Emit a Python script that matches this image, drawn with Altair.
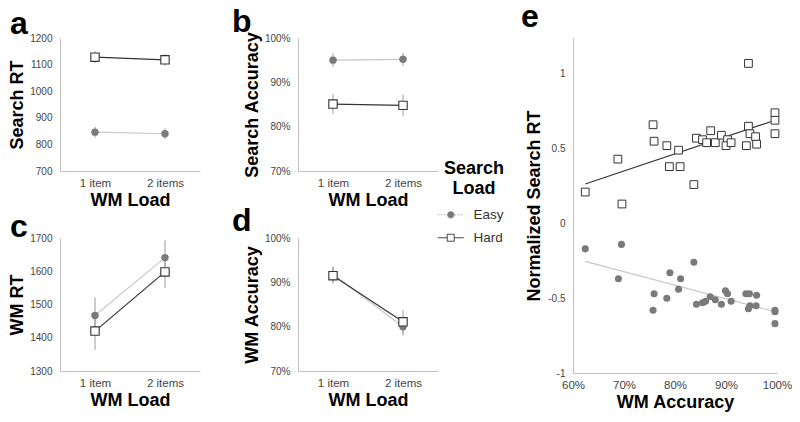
import altair as alt
import pandas as pd

FONT = "Liberation Sans"

load = ["1 item", "2 items"]
series = ["Easy", "Hard"]

# Panel a: Search RT
a_easy = [846, 840]
a_easy_err = [20, 20]
a_hard = [1128, 1118]
a_hard_err = [22, 22]
# Panel b: Search Accuracy (%)
b_easy = [95.0, 95.2]
b_easy_err = [1.5, 1.5]
b_hard = [85.1, 84.8]
b_hard_err = [2.2, 2.4]
# Panel c: WM RT
c_easy = [1467, 1641]
c_easy_err = [54, 52]
c_hard = [1420, 1598]
c_hard_err = [56, 48]
# Panel d: WM Accuracy (%)
d_easy = [91.8, 80.0]
d_easy_err = [1.8, 2.0]
d_hard = [91.5, 81.1]
d_hard_err = [1.8, 2.6]

# Panel e: scatter (WM accuracy %, normalized search RT)
e_hard_acc = [62.4, 68.8, 69.6, 75.7, 75.9, 78.4, 78.9, 81.0, 80.7, 83.7, 84.2, 85.4, 86.2, 87.0,
              87.9, 89.1, 90.3, 90.0, 91.0, 94.0, 94.4, 94.4, 94.7, 95.8, 96.0, 99.6, 99.6, 99.6]
e_hard_rt = [0.21, 0.43, 0.13, 0.66, 0.55, 0.52, 0.38, 0.38, 0.49, 0.26, 0.57, 0.56, 0.54, 0.62,
             0.54, 0.59, 0.56, 0.52, 0.54, 0.52, 1.07, 0.65, 0.60, 0.58, 0.53, 0.74, 0.69, 0.60]
e_easy_acc = [62.4, 69.5, 68.9, 75.9, 75.7, 78.4, 79.0, 81.1, 80.7, 83.7, 84.2, 85.4, 86.0, 86.9,
              87.9, 89.1, 89.9, 90.3, 91.0, 93.9, 94.6, 94.4, 94.7, 96.0, 95.9, 99.6, 99.6, 99.6]
e_easy_rt = [-0.17, -0.14, -0.37, -0.47, -0.58, -0.50, -0.33, -0.37, -0.44, -0.26, -0.54, -0.53, -0.52, -0.49,
             -0.51, -0.54, -0.45, -0.47, -0.52, -0.47, -0.47, -0.57, -0.55, -0.48, -0.55, -0.58, -0.59, -0.67]

EASY_PT = "#7a7a7a"
EASY_LINE = "#c8c8c8"
HARD = "#333333"
ERR = "#9a9a9a"

PW, PH = 140, 133
LETTER = 32


def small_panel(letter, ytitle, easy, easy_err, hard, hard_err, ymin, ymax, step, pct, dx, dy):
    rows = []
    for s, vals, errs in [("Easy", easy, easy_err), ("Hard", hard, hard_err)]:
        for l, v, e in zip(load, vals, errs):
            rows.append({"load": l, "series": s, "value": v, "lo": v - e, "hi": v + e})
    df = pd.DataFrame(rows)
    ticks = list(range(ymin, ymax + 1, step))
    x = alt.X("load:N", sort=load, scale=alt.Scale(type="point", padding=0.5),
              axis=alt.Axis(title="WM Load", labelAngle=0))
    yaxis = alt.Axis(title=ytitle, values=ticks, titlePadding=3,
                     labelExpr=("datum.value + '%'" if pct else "'' + datum.value"))
    yscale = alt.Scale(domain=[ymin, ymax], nice=False)
    base = alt.Chart(df)
    easy_b = base.transform_filter(alt.datum.series == "Easy")
    hard_b = base.transform_filter(alt.datum.series == "Hard")
    layers = [
        easy_b.mark_rule(color=ERR, strokeWidth=1).encode(
            x=x, y=alt.Y("lo:Q", scale=yscale, axis=yaxis), y2="hi:Q"),
        hard_b.mark_rule(color=ERR, strokeWidth=1).encode(
            x=x, y=alt.Y("lo:Q", scale=yscale, axis=yaxis), y2="hi:Q"),
        easy_b.mark_line(color=EASY_LINE, strokeWidth=1.2).encode(
            x=x, y=alt.Y("value:Q", scale=yscale, axis=yaxis)),
        hard_b.mark_line(color=HARD, strokeWidth=1.2).encode(
            x=x, y=alt.Y("value:Q", scale=yscale, axis=yaxis)),
        easy_b.mark_point(shape="circle", filled=True, fill=EASY_PT, color=EASY_PT,
                          opacity=1, size=55).encode(
            x=x, y=alt.Y("value:Q", scale=yscale, axis=yaxis)),
        hard_b.mark_point(shape="square", filled=True, fill="white", stroke=HARD,
                          strokeWidth=1.1, opacity=1, size=70).encode(
            x=x, y=alt.Y("value:Q", scale=yscale, axis=yaxis)),
    ]
    return alt.layer(*layers).properties(
        width=PW, height=PH,
        title=alt.TitleParams(letter, anchor="start", frame="group", dx=dx, dy=dy,
                              baseline="alphabetic", fontSize=LETTER),
    )


pa = small_panel("a", "Search RT", a_easy, a_easy_err, a_hard, a_hard_err, 700, 1200, 100, False, -50, 37)
pb = small_panel("b", "Search Accuracy", b_easy, b_easy_err, b_hard, b_hard_err, 70, 100, 10, True, -66, 37)
pc = small_panel("c", "WM RT", c_easy, c_easy_err, c_hard, c_hard_err, 1300, 1700, 100, False, -50, 40)
pd_ = small_panel("d", "WM Accuracy", d_easy, d_easy_err, d_hard, d_hard_err, 70, 100, 10, True, -66, 34)

# Panel e
edf = pd.DataFrame({
    "acc": e_easy_acc + e_hard_acc,
    "rt": e_easy_rt + e_hard_rt,
    "series": ["Easy"] * len(e_easy_acc) + ["Hard"] * len(e_hard_acc),
})
ex = alt.X("acc:Q", scale=alt.Scale(domain=[60, 100], nice=False),
           axis=alt.Axis(title="WM Accuracy", values=[60, 70, 80, 90, 100], labelFlush=False,
                         labelExpr="datum.value + '%'"))
ey = alt.Y("rt:Q", scale=alt.Scale(domain=[-1, 1.24], nice=False),
           axis=alt.Axis(title="Normalized Search RT", values=[-1, -0.5, 0, 0.5, 1],
                         labelExpr="'' + datum.value", titlePadding=4))
ebase = alt.Chart(edf)
e_easy = ebase.transform_filter(alt.datum.series == "Easy")
e_hard = ebase.transform_filter(alt.datum.series == "Hard")

easy_path = "M-2.6,0H-0.75M0.75,0H2.6M0.7,0A0.7,0.7 0 1 1 -0.7,0A0.7,0.7 0 1 1 0.7,0Z"
hard_path = "M-2.6,0H-0.7M0.7,0H2.6M-0.7,-0.7H0.7V0.7H-0.7Z"
legend = alt.Legend(
    title=["Search", "Load"], orient="none", legendX=384, legendY=122,
    titleFontSize=18, titleFontWeight="bold", titleColor="black", titleAnchor="middle",
    titleAlign="center", titleLineHeight=20, titlePadding=10,
    labelFontSize=13.5, labelColor="#333", labelOffset=16, rowPadding=8,
    symbolSize=100, symbolStrokeWidth=1,
)
phantom = ebase.transform_filter("false").mark_point(size=100, strokeWidth=1, opacity=1).encode(
    x=ex, y=ey,
    shape=alt.Shape("series:N", scale=alt.Scale(domain=series, range=[easy_path, hard_path]), legend=legend),
    fill=alt.Fill("series:N", scale=alt.Scale(domain=series, range=[EASY_PT, "white"]), legend=legend),
    stroke=alt.Stroke("series:N", scale=alt.Scale(domain=series, range=["#aaaaaa", HARD]), legend=legend),
    strokeDash=alt.StrokeDash("series:N", scale=alt.Scale(domain=series, range=[[1.5, 1.5], [1, 0]]),
                              legend=legend),
)

pe = alt.layer(
    e_easy.transform_regression("acc", "rt").mark_line(color=EASY_LINE, strokeWidth=1.2).encode(x=ex, y=ey),
    e_hard.transform_regression("acc", "rt").mark_line(color=HARD, strokeWidth=1.2).encode(x=ex, y=ey),
    e_easy.mark_point(shape="circle", filled=True, fill=EASY_PT, color=EASY_PT, opacity=1, size=50).encode(x=ex, y=ey),
    e_hard.mark_point(shape="square", filled=True, fill="white", stroke=HARD, strokeWidth=1,
                      opacity=1, size=60).encode(x=ex, y=ey),
    phantom,
).properties(width=204, height=335,
             title=alt.TitleParams("e", anchor="start", frame="group", dx=-52, dy=30,
                                   baseline="alphabetic", fontSize=LETTER, offset=9))

grid = alt.concat(pa, pb, pc, pd_, columns=2, spacing={"row": 67, "column": 98}, bounds="flush")

chart = alt.hconcat(grid, pe, spacing=83).properties(
    padding={"top": -7, "left": 0, "right": 0, "bottom": 0}
).configure(
    font=FONT,
).configure_view(stroke=None).configure_axis(
    domainColor="#c0c0c0", domainWidth=1, ticks=False, grid=False,
    labelColor="#444", labelFont=FONT, titleFont=FONT, titleColor="black",
    titleFontWeight="bold", titleFontSize=18,
).configure_axisX(
    labelFontSize=11.5, labelPadding=6, titlePadding=3,
).configure_axisY(
    labelFontSize=10, labelPadding=8, titlePadding=5,
).configure_title(
    fontSize=LETTER, fontWeight="bold", font=FONT, color="black", offset=0,
)

chart.save("out.html", embed_options={"renderer": "svg", "actions": False})
